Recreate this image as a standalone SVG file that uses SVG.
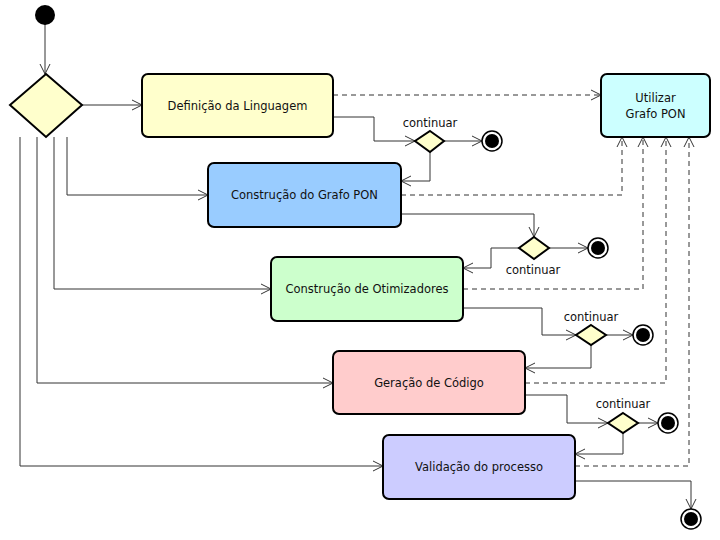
<svg xmlns="http://www.w3.org/2000/svg" width="720" height="540" viewBox="0 0 720 540">
<style>
.box{stroke:#000;stroke-width:2}
.lbl{font-family:"DejaVu Sans",sans-serif;font-size:11.5px;fill:#111;text-anchor:middle}
.ln{fill:none;stroke:#333;stroke-width:1}
.dash{fill:none;stroke:#333;stroke-width:1;stroke-dasharray:5,4}
.dec{fill:#ffffcc;stroke:#000;stroke-width:2}
</style>
<defs>
<marker id="arr" markerWidth="12" markerHeight="12" refX="11" refY="6" orient="auto" markerUnits="userSpaceOnUse">
<path d="M1,1 L11,6 L1,11" fill="none" stroke="#333" stroke-width="1"/>
</marker>
</defs>
<g id="connectors">
<path class="ln" d="M45,24 V74" marker-end="url(#arr)"/>
<path class="ln" d="M82,105 H142" marker-end="url(#arr)"/>
<path class="ln" d="M67,137 V195 H208" marker-end="url(#arr)"/>
<path class="ln" d="M54,137 V289 H271" marker-end="url(#arr)"/>
<path class="ln" d="M37,137 V383 H333" marker-end="url(#arr)"/>
<path class="ln" d="M20,137 V466 H383" marker-end="url(#arr)"/>
<path class="dash" d="M333,95 H601" marker-end="url(#arr)"/>
<path class="dash" d="M401,195 H622 V137" marker-end="url(#arr)"/>
<path class="dash" d="M463,289 H643 V137" marker-end="url(#arr)"/>
<path class="dash" d="M525,383 H666 V137" marker-end="url(#arr)"/>
<path class="dash" d="M575,466 H689 V137" marker-end="url(#arr)"/>
<path class="ln" d="M333,117 H374 V141 H415" marker-end="url(#arr)"/>
<path class="ln" d="M444,141 H482" marker-end="url(#arr)"/>
<path class="ln" d="M430,152 V181 H401" marker-end="url(#arr)"/>
<path class="ln" d="M401,214 H534 V237" marker-end="url(#arr)"/>
<path class="ln" d="M549,248 H588" marker-end="url(#arr)"/>
<path class="ln" d="M519,248 H491 V268 H463" marker-end="url(#arr)"/>
<path class="ln" d="M463,308 H542 V335 H576" marker-end="url(#arr)"/>
<path class="ln" d="M606,335 H633" marker-end="url(#arr)"/>
<path class="ln" d="M591,345 V368 H525" marker-end="url(#arr)"/>
<path class="ln" d="M525,395 H567 V423 H608" marker-end="url(#arr)"/>
<path class="ln" d="M638,423 H658" marker-end="url(#arr)"/>
<path class="ln" d="M623,433 V454 H575" marker-end="url(#arr)"/>
<path class="ln" d="M575,481 H691 V509" marker-end="url(#arr)"/>
</g>
<g id="start"><circle cx="45" cy="15" r="10" fill="#000"/></g>
<g id="decision0"><polygon class="dec" points="46,74 82,105 46,137 10,105"/></g>
<g id="definicao"><rect class="box" x="142" y="74" width="191" height="63" rx="6" fill="#ffffcc"/><text class="lbl" x="237.5" y="110">Definição da Linguagem</text></g>
<g id="grafo"><rect class="box" x="208" y="163" width="193" height="64" rx="6" fill="#99ccff"/><text class="lbl" x="304.5" y="199">Construção do Grafo PON</text></g>
<g id="otimizadores"><rect class="box" x="271" y="257" width="192" height="64" rx="6" fill="#ccffcc"/><text class="lbl" x="367" y="293">Construção de Otimizadores</text></g>
<g id="geracao"><rect class="box" x="333" y="351" width="192" height="63" rx="6" fill="#ffcccc"/><text class="lbl" x="429" y="387">Geração de Código</text></g>
<g id="validacao"><rect class="box" x="383" y="435" width="192" height="64" rx="6" fill="#ccccff"/><text class="lbl" x="479" y="471">Validação do processo</text></g>
<g id="utilizar"><rect class="box" x="601" y="74" width="109" height="63" rx="6" fill="#ccffff"/><text class="lbl" x="655.5" y="102">Utilizar</text><text class="lbl" x="655.5" y="118">Grafo PON</text></g>
<g id="d1"><polygon class="dec" points="430,131 444,141 430,152 415,141"/><text class="lbl" x="430" y="127">continuar</text></g>
<g id="f1"><circle cx="492" cy="141" r="10" fill="#fff" stroke="#000" stroke-width="1.5"/><circle cx="492" cy="141" r="7" fill="#000"/></g>
<g id="d2"><polygon class="dec" points="534,237 549,248 534,259 519,248"/><text class="lbl" x="533" y="274">continuar</text></g>
<g id="f2"><circle cx="598" cy="248" r="10" fill="#fff" stroke="#000" stroke-width="1.5"/><circle cx="598" cy="248" r="7" fill="#000"/></g>
<g id="d3"><polygon class="dec" points="591,325 606,335 591,345 576,335"/><text class="lbl" x="591" y="321">continuar</text></g>
<g id="f3"><circle cx="643" cy="335" r="10" fill="#fff" stroke="#000" stroke-width="1.5"/><circle cx="643" cy="335" r="7" fill="#000"/></g>
<g id="d4"><polygon class="dec" points="623,413 638,423 623,433 608,423"/><text class="lbl" x="623" y="408">continuar</text></g>
<g id="f4"><circle cx="668" cy="423" r="10" fill="#fff" stroke="#000" stroke-width="1.5"/><circle cx="668" cy="423" r="7" fill="#000"/></g>
<g id="f5"><circle cx="691" cy="519" r="10" fill="#fff" stroke="#000" stroke-width="1.5"/><circle cx="691" cy="519" r="7" fill="#000"/></g>
</svg>
